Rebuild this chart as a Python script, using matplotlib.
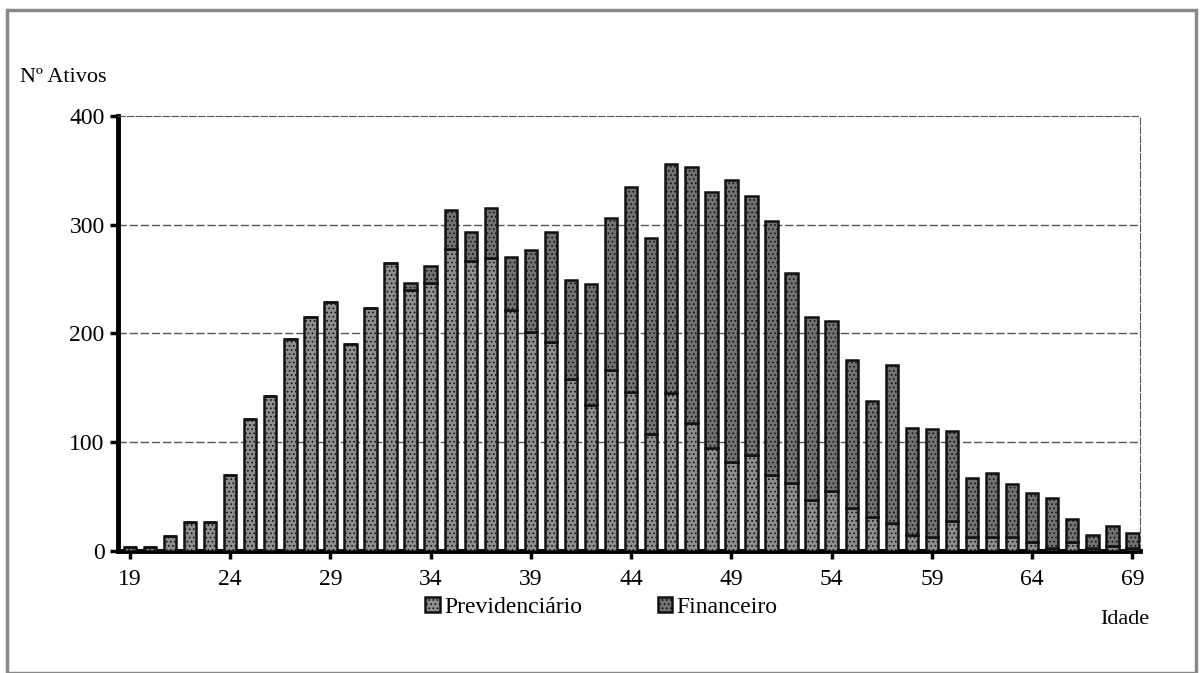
import matplotlib
matplotlib.use('Agg')
import matplotlib.pyplot as plt
from matplotlib.patches import Rectangle
import numpy as np

# idade (anos) e numero de ativos por plano
ages = list(range(19, 70))
prev = [4, 4, 14, 27, 27, 70, 121, 143, 195, 215, 229, 190, 223, 265, 240,
        246, 278, 267, 269, 222, 201, 192, 158, 134, 166,
        146, 108, 145, 118, 95, 82, 88, 70, 63, 47,
        55, 40, 31, 26, 15, 13, 28, 13, 13, 13,
        8, 3, 8, 3, 5, 3]
fin = [0, 0, 0, 0, 0, 0, 0, 0, 0, 0, 0, 0, 0, 0, 6,
       16, 35, 26, 46, 48, 76, 101, 91, 111, 140,
       189, 180, 211, 235, 235, 259, 238, 233, 193, 168,
       156, 136, 107, 145, 98, 99, 82, 54, 59, 49,
       45, 46, 22, 12, 18, 14]
xticks = [19, 24, 29, 34, 39, 44, 49, 54, 59, 64, 69]
yticks = [0, 100, 200, 300, 400]

plt.rcParams['font.family'] = ['Liberation Serif', 'DejaVu Serif']
plt.rcParams['hatch.linewidth'] = 0.7

fig = plt.figure(figsize=(12.03, 6.73), dpi=100)
ax = fig.add_axes([0.098, 0.181, 0.85, 0.647])

w = 0.62
b1 = ax.bar(ages, prev, width=w, color='#8e8e8e', edgecolor='#111111',
            linewidth=1.8, hatch='....', label='Previdenciário', zorder=3)
b2 = ax.bar(ages, fin, width=w, bottom=prev, color='#727272', edgecolor='#111111',
            linewidth=1.8, hatch='....', label='Financeiro', zorder=3)

ax.set_xlim(18.4, 69.4)
ax.set_ylim(0, 400)
ax.set_xticks(xticks)
ax.set_yticks(yticks)
ax.tick_params(axis='both', labelsize=17, width=2.5, length=6, direction='out')
ax.tick_params(axis='x', pad=7)

for y in [100, 200, 300]:
  ax.axhline(y, color='#555555', linestyle=(0, (6, 2)), linewidth=1.0, zorder=1)

ax.spines['left'].set_linewidth(3.5)
ax.spines['bottom'].set_linewidth(3.5)
ax.spines['top'].set_linestyle((0, (6, 2)))
ax.spines['top'].set_color('#555555')
ax.spines['right'].set_linestyle((0, (6, 2)))
ax.spines['right'].set_color('#555555')

fig.text(0.017, 0.885, 'Nº Ativos', fontsize=16, ha='left', va='center')
fig.text(0.955, 0.079, 'Idade', fontsize=16, ha='right', va='center')

leg = fig.legend(handles=[b1, b2], loc='center', bbox_to_anchor=(0.5, 0.098), ncol=2,
                 frameon=False, fontsize=17, handlelength=0.6, handleheight=0.6,
                 handletextpad=0.2, columnspacing=3.2)

# moldura da pagina digitalizada
fig.patches.append(Rectangle((0.006, 0.0), 0.988, 0.985, transform=fig.transFigure,
                             fill=False, edgecolor='#888888', linewidth=2.5))

fig.savefig('out.png', dpi=100)
